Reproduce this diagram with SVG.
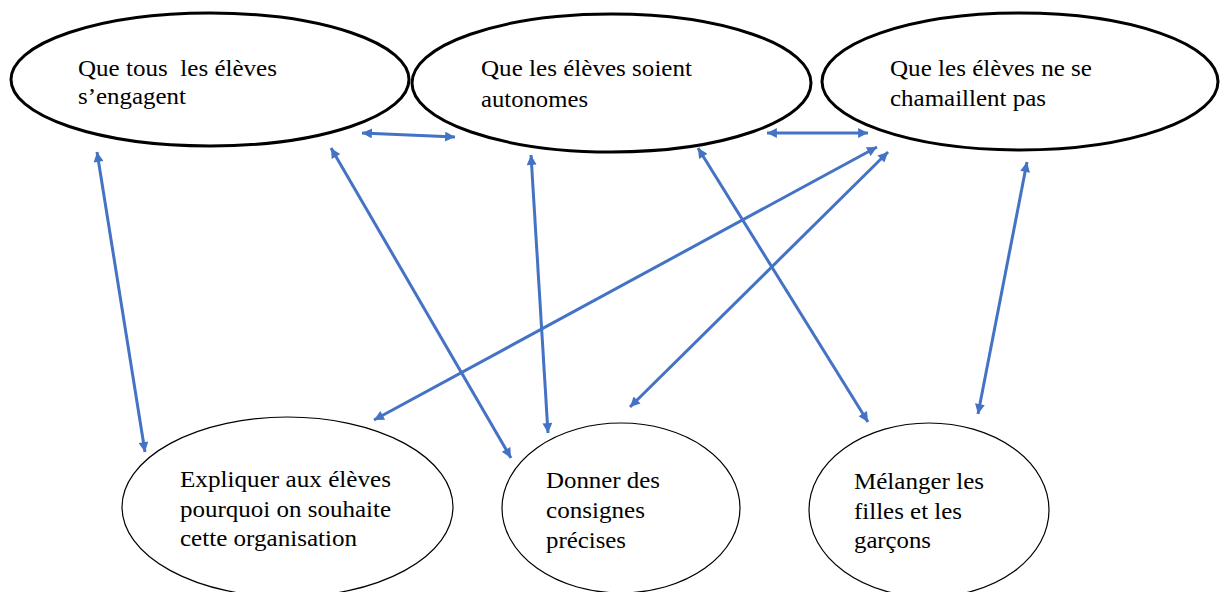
<svg xmlns="http://www.w3.org/2000/svg" width="1220" height="592" viewBox="0 0 1220 592">
<style>
.top{fill:#fff;stroke:#000;stroke-width:3}
.bot{fill:#fff;stroke:#000;stroke-width:1.2}
text{font-family:Liberation Serif, Times New Roman, serif;font-size:23px;fill:#000}
.con{stroke:#4472C4;stroke-width:3;fill:none;marker-start:url(#ah);marker-end:url(#ah)}
</style>
<defs>
<marker id="ah" viewBox="0 0 10 10" refX="10" refY="5" markerWidth="3.6" markerHeight="3.3" orient="auto-start-reverse" markerUnits="strokeWidth">
<path d="M0,0 L10,5 L0,10 z" fill="#4472C4"/>
</marker>
</defs>
<rect width="1220" height="592" fill="#fff"/>
<g id="n1">
<ellipse class="top" cx="210" cy="79.5" rx="199" ry="66.5"/>
<text x="78" y="75.5" font-family="Liberation Serif" textLength="199" lengthAdjust="spacingAndGlyphs" xml:space="preserve">Que tous  les élèves</text>
<text x="78" y="104" font-family="Liberation Serif" textLength="108" lengthAdjust="spacingAndGlyphs">s’engagent</text>
</g>
<g id="n2">
<ellipse class="top" cx="611.5" cy="83" rx="199.5" ry="69"/>
<text x="481" y="76" font-family="Liberation Serif" textLength="211" lengthAdjust="spacingAndGlyphs">Que les élèves soient</text>
<text x="481" y="107" font-family="Liberation Serif" textLength="107" lengthAdjust="spacingAndGlyphs">autonomes</text>
</g>
<g id="n3">
<ellipse class="top" cx="1020" cy="81.5" rx="198" ry="68.5"/>
<text x="890" y="76" font-family="Liberation Serif" textLength="202" lengthAdjust="spacingAndGlyphs">Que les élèves ne se</text>
<text x="890" y="106" font-family="Liberation Serif" textLength="156" lengthAdjust="spacingAndGlyphs">chamaillent pas</text>
</g>
<g id="n4">
<ellipse class="bot" cx="287.5" cy="507" rx="165.5" ry="90"/>
<text x="180" y="487" font-family="Liberation Serif" textLength="211" lengthAdjust="spacingAndGlyphs">Expliquer aux élèves</text>
<text x="180" y="516.5" font-family="Liberation Serif" textLength="211" lengthAdjust="spacingAndGlyphs">pourquoi on souhaite</text>
<text x="180" y="546" font-family="Liberation Serif" textLength="177" lengthAdjust="spacingAndGlyphs">cette organisation</text>
</g>
<g id="n5">
<ellipse class="bot" cx="621" cy="508" rx="119" ry="85"/>
<text x="546" y="488" font-family="Liberation Serif" textLength="114" lengthAdjust="spacingAndGlyphs">Donner des</text>
<text x="546" y="518" font-family="Liberation Serif" textLength="99" lengthAdjust="spacingAndGlyphs">consignes</text>
<text x="546" y="548" font-family="Liberation Serif" textLength="80" lengthAdjust="spacingAndGlyphs">précises</text>
</g>
<g id="n6">
<ellipse class="bot" cx="929" cy="510" rx="120" ry="87"/>
<text x="854" y="489" font-family="Liberation Serif" textLength="130" lengthAdjust="spacingAndGlyphs">Mélanger les</text>
<text x="854" y="519" font-family="Liberation Serif" textLength="108" lengthAdjust="spacingAndGlyphs">filles et les</text>
<text x="854" y="548" font-family="Liberation Serif" textLength="77" lengthAdjust="spacingAndGlyphs">garçons</text>
</g>
<g id="connectors">
<line class="con" x1="362" y1="133" x2="455" y2="137"/>
<line class="con" x1="767" y1="133" x2="868" y2="133"/>
<line class="con" x1="97" y1="152" x2="145" y2="452"/>
<line class="con" x1="331" y1="148" x2="511" y2="458"/>
<line class="con" x1="531" y1="155" x2="548" y2="433"/>
<line class="con" x1="698" y1="148" x2="868" y2="422"/>
<line class="con" x1="877" y1="147" x2="374" y2="420"/>
<line class="con" x1="888" y1="152" x2="630" y2="407"/>
<line class="con" x1="1027" y1="162" x2="978" y2="414"/>
</g>
</svg>
